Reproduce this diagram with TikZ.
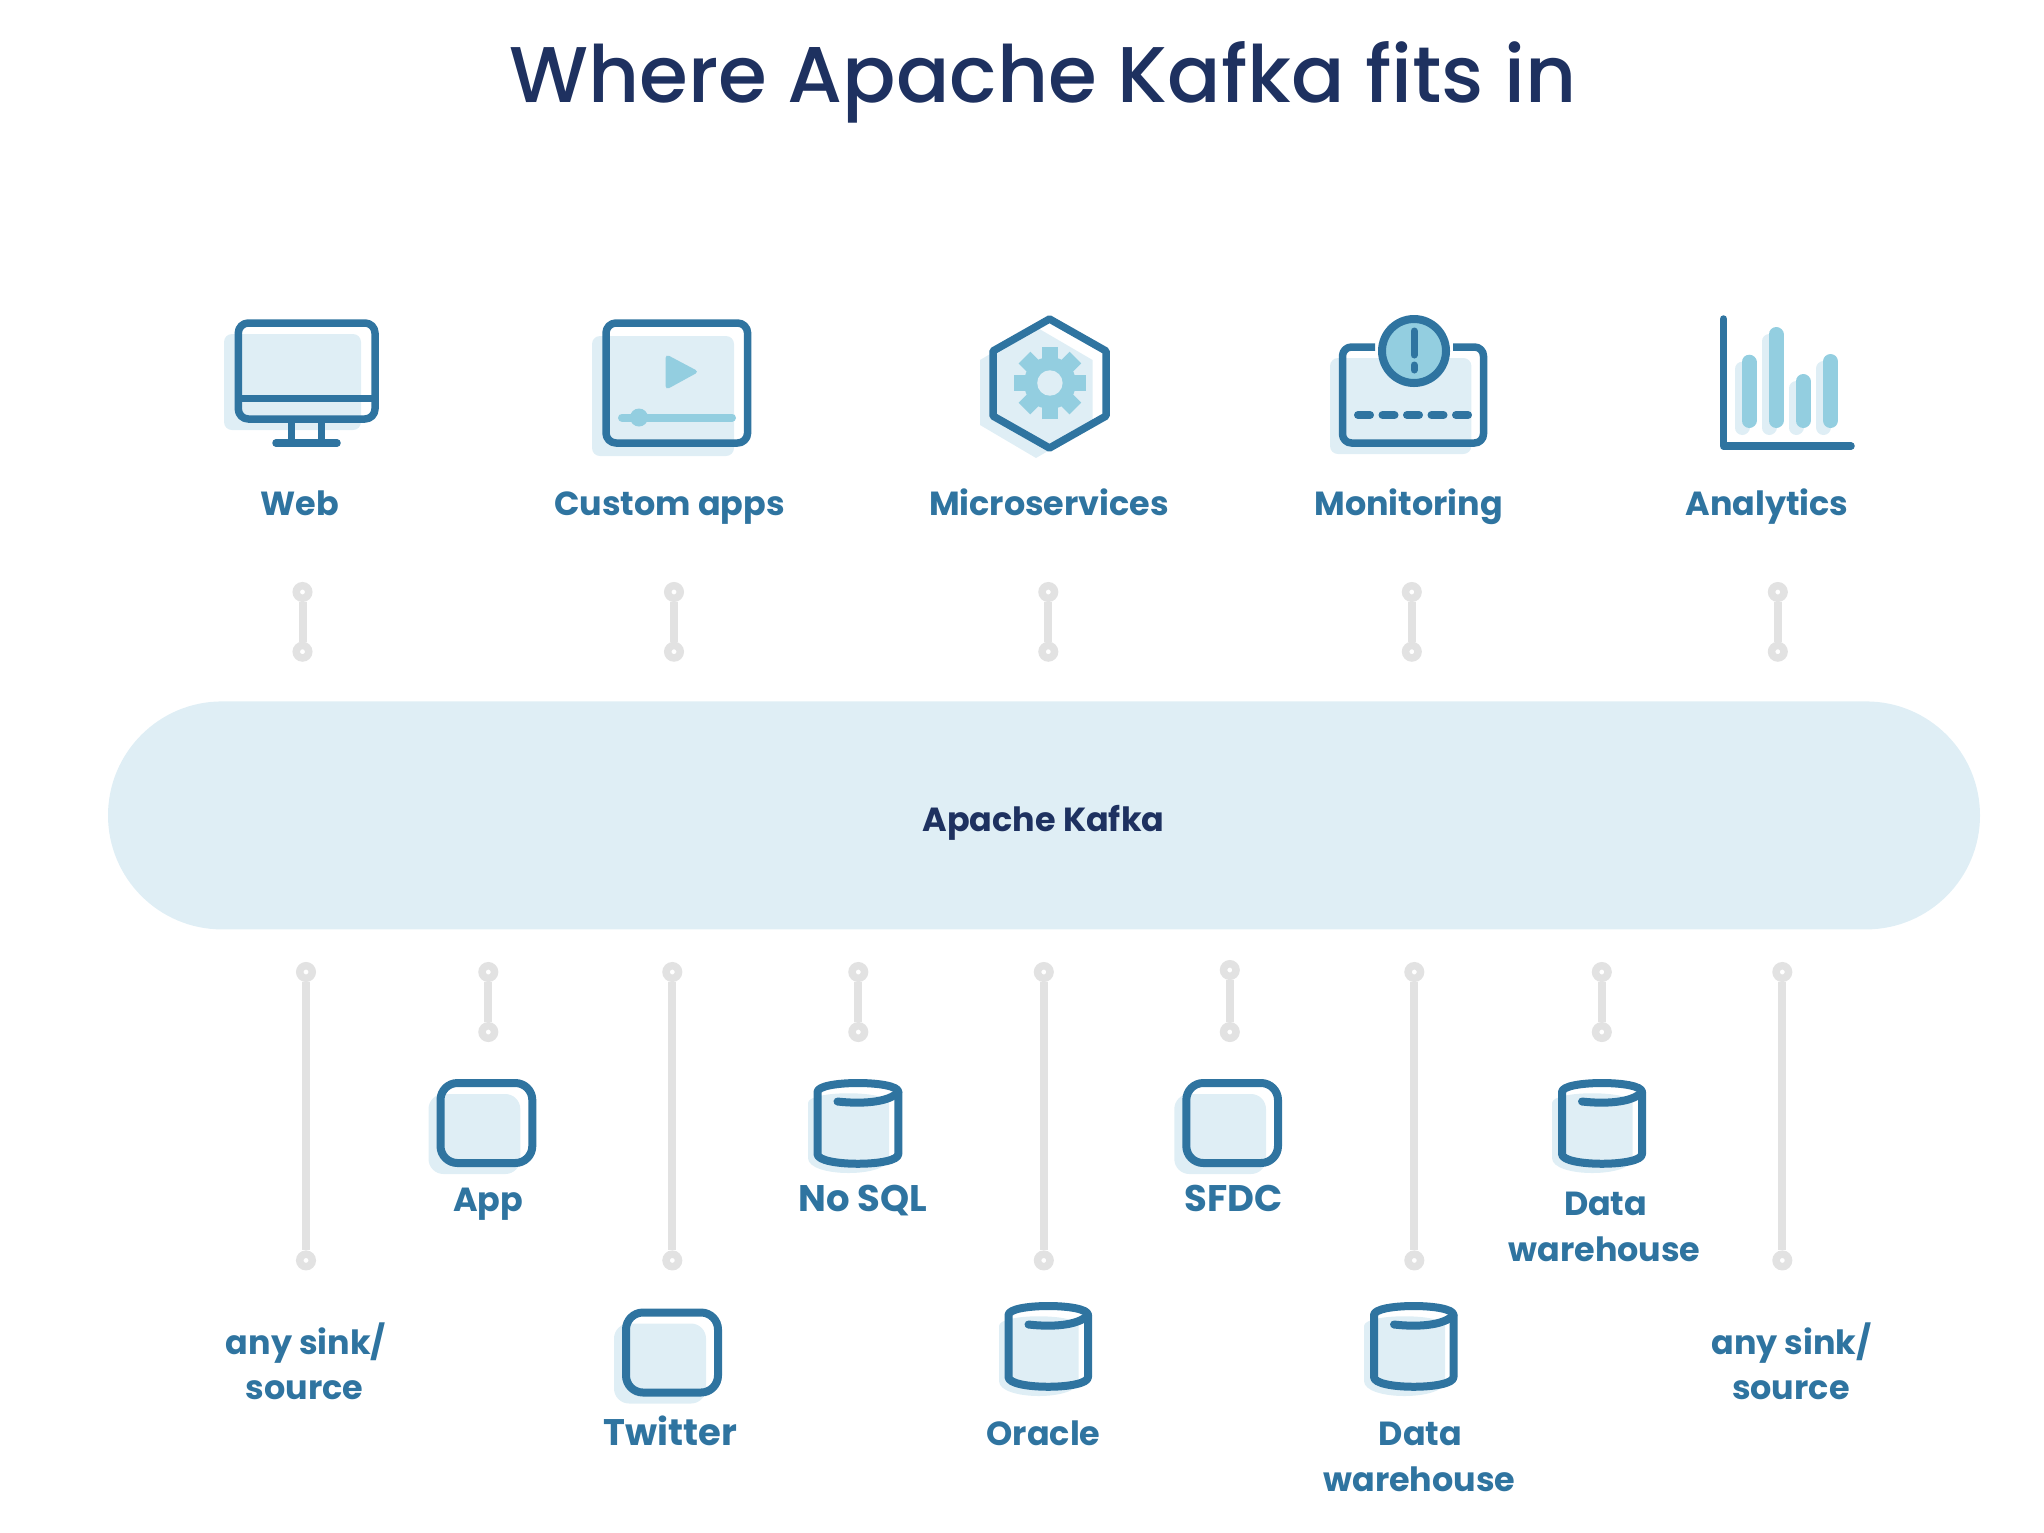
\documentclass[tikz,border=0pt]{standalone}
\usepackage{fontspec}
\usetikzlibrary{calc}
\setmainfont{Poppins Bold}
\newfontfamily\titlefont{Poppins Medium}
\definecolor{blue}{HTML}{2F74A0}
\definecolor{navy}{HTML}{1E3160}
\definecolor{pale}{HTML}{DFEEF5}
\definecolor{sky}{HTML}{93CEE0}
\definecolor{ringgray}{HTML}{E2E2E2}
\tikzset{
  iconline/.style={draw=blue,line width=7.5pt,line join=round,line cap=round},
  smallicon/.style={iconline,line width=8pt},
  shade/.style={fill=pale,draw=none},
  accent/.style={fill=sky,draw=none},
  ring/.style={circle,draw=ringgray,line width=7.5pt,minimum size=12.5pt,inner sep=0pt,fill=white},
  link/.style={draw=ringgray,line width=8pt},
  lab/.style={anchor=base,text=blue,font=\fontsize{33.4}{36}\selectfont,inner sep=0pt},
  labcaps/.style={lab,font=\fontsize{37}{40}\selectfont},
}
\newcommand{\boxicon}[4]{%
  \fill[shade,rounded corners=15pt] (#1-12,#2+11) rectangle (#3-12-0,#4+11);
  \draw[smallicon,rounded corners=17pt] (#1,#2) rectangle (#3,#4);}
\newcommand{\cylicon}[5]{% x1 y1 x2 shadowx1 shadowx2
  \fill[shade] (#4,#2+20) .. controls (#4,#2+7) and (#5,#2+7) .. (#5,#2+20)
     -- (#5,#2+75) .. controls (#5,#2+95) and (#4,#2+95) .. (#4,#2+75) -- cycle;
  \draw[smallicon] (#1,#2+9) .. controls (#1,#2-3) and (#3,#2-3) .. (#3,#2+9)
     -- (#3,#2+71) .. controls (#3,#2+84) and (#1,#2+84) .. (#1,#2+71) -- cycle;
  \draw[smallicon] (#1+20,#2+18.5) .. controls (#1+42,#2+21) and (#3-10,#2+20) .. (#3,#2+9);}
\begin{document}
\begin{tikzpicture}[x=1pt,y=-1pt]
\useasboundingbox (0,0) rectangle (2044,1532);
\node[anchor=base,text=navy,font=\titlefont\fontsize{79}{90}\selectfont,inner sep=0pt] (title) at (1043,102) {Where Apache Kafka fits in};

% monitor
\fill[shade,rounded corners=8pt] (224,334) rectangle (361,430);
\draw[iconline,rounded corners=10pt] (238.3,323) rectangle (375,419);
\draw[iconline,line cap=butt] (238.3,398.7) -- (375,398.7);
\draw[iconline,line cap=butt] (291.4,419) -- (291.4,443);
\draw[iconline,line cap=butt] (321.5,419) -- (321.5,443);
\draw[iconline] (276,443) -- (337,443);
% video
\fill[shade,rounded corners=8pt] (592,336) rectangle (734,456);
\draw[iconline,rounded corners=10pt] (606,323) rectangle (747.6,443);
\fill[accent,rounded corners=4pt] (665.6,354) -- (699,371.7) -- (665.6,390) -- cycle;
\draw[sky,line width=8pt,line cap=round] (622,417.5) -- (732,417.5);
\fill[sky] (639,417.5) circle (9);
% hexagon
\fill[shade] (1036,327) -- (1092.6,360) -- (1092.6,425) -- (1036,458) -- (980,425) -- (980,360) -- cycle;
\draw[iconline] (1049.5,319) -- (1106,351) -- (1106,416) -- (1049.5,448) -- (993,416) -- (993,351) -- cycle;
\fill[sky] (1049.9,383) circle (26);
\foreach \a in {0,45,90,135}
  \draw[sky,line width=16.5pt] ($(1049.9,383)+(\a:36)$) -- ($(1049.9,383)+(\a+180:36)$);
\fill[pale] (1049.9,383) circle (12.7);
% monitoring
\fill[shade,rounded corners=8pt] (1330,358) rectangle (1471.4,454);
\draw[iconline,rounded corners=9pt,line cap=butt] (1375,347) -- (1342.5,347) -- (1342.5,443) -- (1483.5,443) -- (1483.5,347) -- (1453,347);
\filldraw[fill=sky,draw=blue,line width=8pt] (1414,351) circle (32);
\draw[blue,line width=7pt,line cap=round] (1414,331) -- (1414,355);
\draw[blue,line width=7pt,line cap=round] (1414,365) -- (1414,370);
\foreach \x in {0,1,2,3,4}
  \draw[blue,line width=8pt,line cap=round] (1358+24.5*\x,415) -- (1370+24.5*\x,415);
% analytics
\foreach \x/\y in {1749/354.7,1776/327,1803/374,1830.5/354}{
  \draw[pale,line width=15pt,line cap=round] (\x-7,\y+14.5) -- (\x-7,427.5);
  \draw[sky,line width=15pt,line cap=round] (\x,\y+7.5) -- (\x,420.5);
}
\draw[iconline] (1723.5,319) -- (1723.5,446) -- (1851,446);

% labels top
\node[lab] (web) at (299.6,515) {Web};
\node[lab] (custom) at (669.5,515) {Custom apps};
\node[lab] (micro) at (1049,515) {Microservices};
\node[lab] (monit) at (1408.6,515) {Monitoring};
\node[lab] (analy) at (1767,515) {Analytics};

% connectors
\foreach \n/\xa/\ya/\yb in {
  a/302.5/592/651.7, b/674/592/651.7, c/1048.3/592/651.7, d/1411.8/592/651.7, e/1777.8/592/651.7,
  f/306/972/1260.4, g/488.3/972/1032, h/672.3/972/1260.4, i/858.3/972/1032, j/1043.8/972/1260.4,
  k/1229.8/970/1032, l/1414.3/972/1260.4, m/1601.8/972/1032, n/1782.3/972/1260.4}{
  \node[ring] (\n1) at (\xa,\ya) {};
  \node[ring] (\n2) at (\xa,\yb) {};
  \draw[link] (\n1) -- (\n2);
}

% kafka
\node[fill=pale,rounded corners=114pt,minimum width=1872pt,minimum height=228pt,inner sep=0pt,anchor=center] (kafka) at (1044,815.4) {};
\node[anchor=base,text=navy,font=\fontsize{33.4}{36}\selectfont,inner sep=0pt] (kafkatext) at (1043.5,831) {Apache Kafka};

% bottom icons
\boxicon{440.5}{1083}{532.3}{1163}
\boxicon{626}{1312.5}{718}{1392.5}
\boxicon{1186.3}{1083}{1278}{1163}
\cylicon{817.5}{1083}{898.3}{808}{889}
\cylicon{1562}{1083}{1642}{1552}{1632.6}
\cylicon{1008.5}{1306}{1088}{999}{1078.6}
\cylicon{1374}{1306}{1453.5}{1364}{1445}

% bottom labels
\node[lab] (anyL1) at (306,1354) {any sink/};
\node[lab] (anyL2) at (304.6,1399.5) {source};
\node[lab] (app) at (488,1211) {App};
\node[labcaps] (twitter) at (670.7,1445.3) {Twitter};
\node[labcaps] (nosql) at (862.8,1211) {No SQL};
\node[lab] (oracle) at (1043.5,1445) {Oracle};
\node[labcaps] (sfdc) at (1234,1211) {SFDC};
\node[lab] (dw1a) at (1605.6,1215) {Data};
\node[lab] (dw1b) at (1604.5,1261.3) {warehouse};
\node[lab] (dw2a) at (1420.5,1445) {Data};
\node[lab] (dw2b) at (1419.4,1491) {warehouse};
\node[lab] (anyR1) at (1791.6,1354) {any sink/};
\node[lab] (anyR2) at (1790.8,1399.5) {source};
\end{tikzpicture}
\end{document}
